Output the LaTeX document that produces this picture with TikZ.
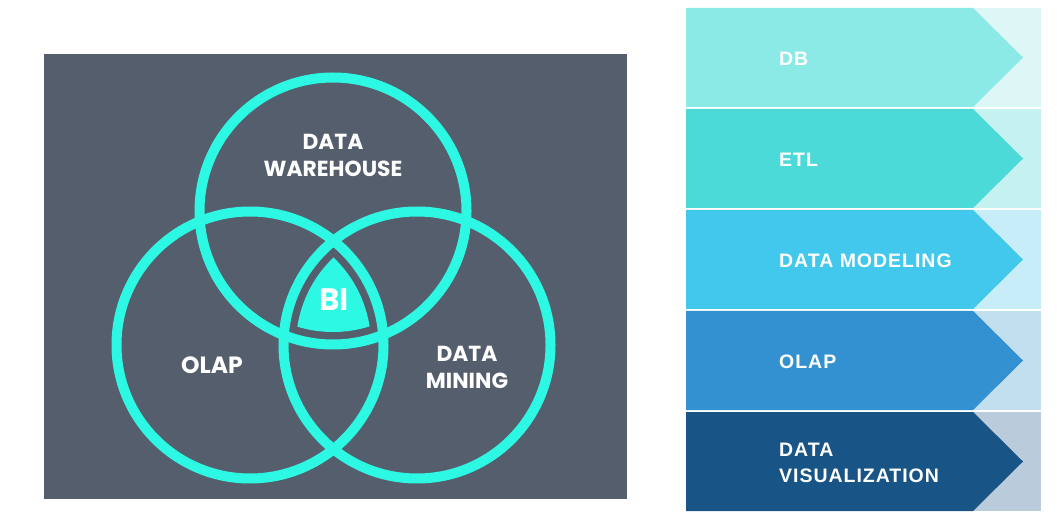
\documentclass[tikz,border=0pt]{standalone}
\usepackage{fontspec}
\setmainfont{Liberation Sans}
\newfontfamily\vennfont{Poppins}
\newfontfamily\rowfont{Liberation Sans}[LetterSpace=5]
\definecolor{panel}{HTML}{545E6C}
\definecolor{ringc}{HTML}{2DF8E4}
\definecolor{mainA}{HTML}{8BEAE6}\definecolor{lightA}{HTML}{DDF7F7}
\definecolor{mainB}{HTML}{4BDAD8}\definecolor{lightB}{HTML}{C5F2F0}
\definecolor{mainC}{HTML}{42C8ED}\definecolor{lightC}{HTML}{C6EDF8}
\definecolor{mainD}{HTML}{3391D2}\definecolor{lightD}{HTML}{C2DFF0}
\definecolor{mainE}{HTML}{195487}\definecolor{lightE}{HTML}{BACBDB}
\tikzset{
  ring/.style={draw=ringc, line width=10pt},
  vennlabel/.style={text=white, align=center, inner sep=0pt,
    font=\vennfont\bfseries\fontsize{21.8}{27}\selectfont},
  rowlabel/.style={text=white, align=left, anchor=west, inner sep=0pt,
    font=\rowfont\bfseries\fontsize{19.5}{26}\selectfont},
}
\begin{document}
\begin{tikzpicture}[x=1pt,y=-1pt]
\useasboundingbox (0,0) rectangle (1057,526);
% Venn panel
\fill[panel] (44,54) rectangle (627,499);
\begin{scope}
  \clip (250,345) circle [radius=121pt];
  \clip (417,345) circle [radius=121pt];
  \fill[ringc] (333,211) circle [radius=121pt];
\end{scope}
\draw[ring] (333,211) circle [radius=133.5pt];
\draw[ring] (250,345) circle [radius=133.5pt];
\draw[ring] (417,345) circle [radius=133.5pt];
\node[vennlabel] (dw) at (333,155) {DATA\\WAREHOUSE};
\node[vennlabel, font=\vennfont\bfseries\fontsize{23.5}{28}\selectfont] (olap) at (212,365) {OLAP};
\node[vennlabel] (dm) at (467,367) {DATA\\MINING};
\node[vennlabel, font=\vennfont\bfseries\fontsize{31}{36}\selectfont] (bi) at (334,300) {BI};
% Right column
\foreach \t/\b/\m/\mc/\lc/\nm in {8/107/57.5/mainA/lightA/r1, 109/208/158.5/mainB/lightB/r2, 210/309/259.5/mainC/lightC/r3, 311/410/360.5/mainD/lightD/r4, 412/511/461.5/mainE/lightE/r5}{
  \fill[\lc] (686,\t) rectangle (1041,\b);
  \fill[\mc] (686,\t) -- (973,\t) -- (1023,\m) -- (973,\b) -- (686,\b) -- cycle;
  \coordinate (\nm) at (779,\m+1.5);
}
\node[rowlabel] (l1) at (r1) {DB};
\node[rowlabel] (l2) at (r2) {ETL};
\node[rowlabel] (l3) at (r3) {DATA MODELING};
\node[rowlabel] (l4) at (r4) {OLAP};
\node[rowlabel] (l5) at (r5) {DATA\\VISUALIZATION};
\end{tikzpicture}
\end{document}
